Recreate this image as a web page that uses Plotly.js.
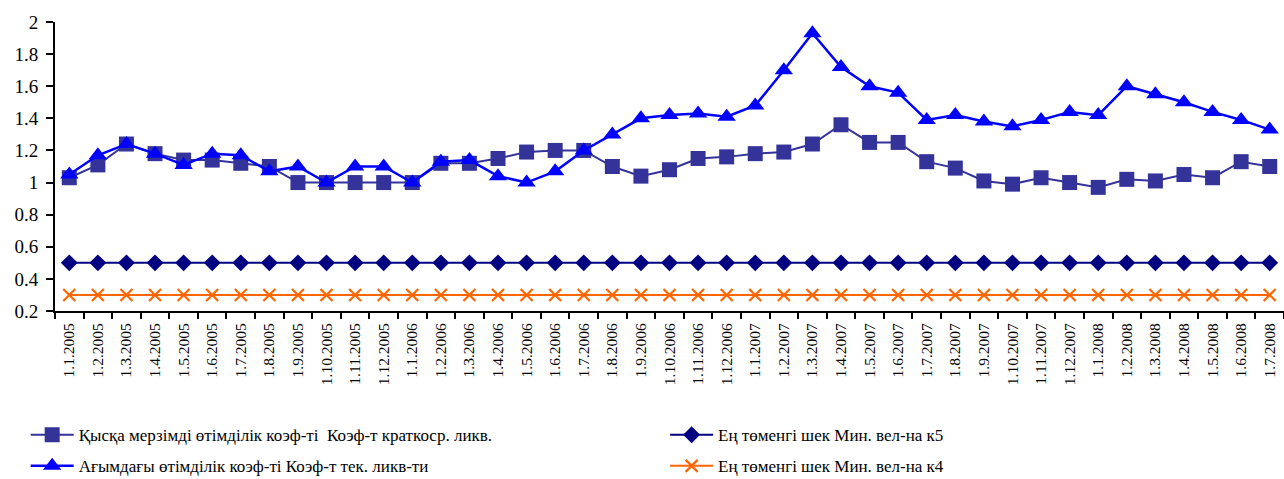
<!DOCTYPE html>
<html>
<head>
<meta charset="utf-8">
<script src="https://cdn.plot.ly/plotly-3.0.1.min.js"></script>
<style>html,body{margin:0;padding:0;background:#fff;}#chart{width:1284px;height:479px;}</style>
</head>
<body>
<div id="chart"></div>
<script>
const categories = ["1.1.2005","1.2.2005","1.3.2005","1.4.2005","1.5.2005","1.6.2005","1.7.2005","1.8.2005","1.9.2005","1.10.2005","1.11.2005","1.12.2005",
"1.1.2006","1.2.2006","1.3.2006","1.4.2006","1.5.2006","1.6.2006","1.7.2006","1.8.2006","1.9.2006","1.10.2006","1.11.2006","1.12.2006",
"1.1.2007","1.2.2007","1.3.2007","1.4.2007","1.5.2007","1.6.2007","1.7.2007","1.8.2007","1.9.2007","1.10.2007","1.11.2007","1.12.2007",
"1.1.2008","1.2.2008","1.3.2008","1.4.2008","1.5.2008","1.6.2008","1.7.2008"];

const quickRatio = [1.03,1.11,1.24,1.18,1.14,1.14,1.12,1.10,1.00,1.00,1.00,1.00,1.00,
1.12,1.12,1.15,1.19,1.20,1.20,1.10,1.04,1.08,1.15,1.16,1.18,1.19,1.24,1.36,
1.25,1.25,1.13,1.09,1.01,0.99,1.03,1.00,0.97,1.02,1.01,1.05,1.03,1.13,1.10];

const currentRatio = [1.05,1.17,1.24,1.18,1.11,1.18,1.17,1.07,1.10,1.00,1.10,1.10,1.00,
1.13,1.14,1.04,1.00,1.07,1.20,1.30,1.40,1.42,1.43,1.41,1.48,1.70,1.93,1.72,
1.60,1.56,1.39,1.42,1.38,1.35,1.39,1.44,1.42,1.60,1.55,1.50,1.44,1.39,1.33];

const minK5 = categories.map(() => 0.5);
const minK4 = categories.map(() => 0.3);

const names = [
  "Қысқа мерзімді өтімділік коэф-ті  Коэф-т краткоср. ликв.",
  "Ең төменгі шек Мин. вел-на к5",
  "Ағымдағы өтімділік коэф-ті Коэф-т тек. ликв-ти",
  "Ең төменгі шек Мин. вел-на к4"
];

const serif = "Liberation Serif";

const traces = [
  {x: categories, y: minK4, name: names[3], type: "scatter", mode: "lines+markers",
   line: {color: "#FF6600", width: 2}, marker: {symbol: "x-thin-open", size: 12, line: {color: "#FF6600", width: 2.2}, color: "#FF6600"},
   legend: "legend2", legendgroup: "d", legendrank: 2},
  {x: categories, y: minK5, name: names[1], type: "scatter", mode: "lines+markers",
   line: {color: "#000080", width: 2}, marker: {symbol: "diamond", size: 13, color: "#000080"},
   legend: "legend2", legendgroup: "c", legendrank: 1},
  {x: categories, y: quickRatio, name: names[0], type: "scatter", mode: "lines+markers",
   line: {color: "#333399", width: 2}, marker: {symbol: "square", size: 15, color: "#333399"},
   legend: "legend", legendgroup: "a", legendrank: 1},
  {x: categories, y: currentRatio, name: names[2], type: "scatter", mode: "lines+markers",
   line: {color: "#0000FF", width: 2.5}, marker: {symbol: "triangle-up", size: 16, color: "#0000FF"},
   legend: "legend", legendgroup: "b", legendrank: 2}
];

const legendCommon = {
  orientation: "v", yanchor: "top", xanchor: "left", xref: "container", yref: "container",
  font: {family: serif, size: 17, color: "#000"},
  bgcolor: "rgba(0,0,0,0)", tracegroupgap: 6, itemwidth: 43,
  traceorder: "grouped"
};

const layout = {
  width: 1284, height: 479,
  margin: {l: 55, r: 0, t: 22, b: 168, autoexpand: false},
  paper_bgcolor: "#fff", plot_bgcolor: "#fff",
  showlegend: true,
  font: {family: serif, color: "#000"},
  xaxis: {
    type: "category", range: [-0.5, 42.5], automargin: false,
    showline: true, linecolor: "#000", linewidth: 2,
    ticks: "outside", tickson: "boundaries", ticklen: 6, tickwidth: 2, tickcolor: "#000",
    ticklabelstandoff: 4,
    tickangle: -90, tickfont: {family: serif, size: 15.5, color: "#000"},
    showgrid: false, zeroline: false, fixedrange: true
  },
  yaxis: {
    range: [0.2, 2], dtick: 0.2, tick0: 0.2, automargin: false,
    showline: true, linecolor: "#000", linewidth: 2,
    ticks: "outside", ticklen: 7, tickwidth: 2, tickcolor: "#000",
    ticklabelstandoff: 4,
    tickfont: {family: serif, size: 19, color: "#000"},
    showgrid: false, zeroline: false, fixedrange: true
  },
  legend: Object.assign({}, legendCommon, {x: 0.02, y: 0.129}),
  legend2: Object.assign({}, legendCommon, {x: 0.518, y: 0.129})
};

Plotly.newPlot("chart", traces, layout, {displayModeBar: false, staticPlot: true});
</script>
</body>
</html>
